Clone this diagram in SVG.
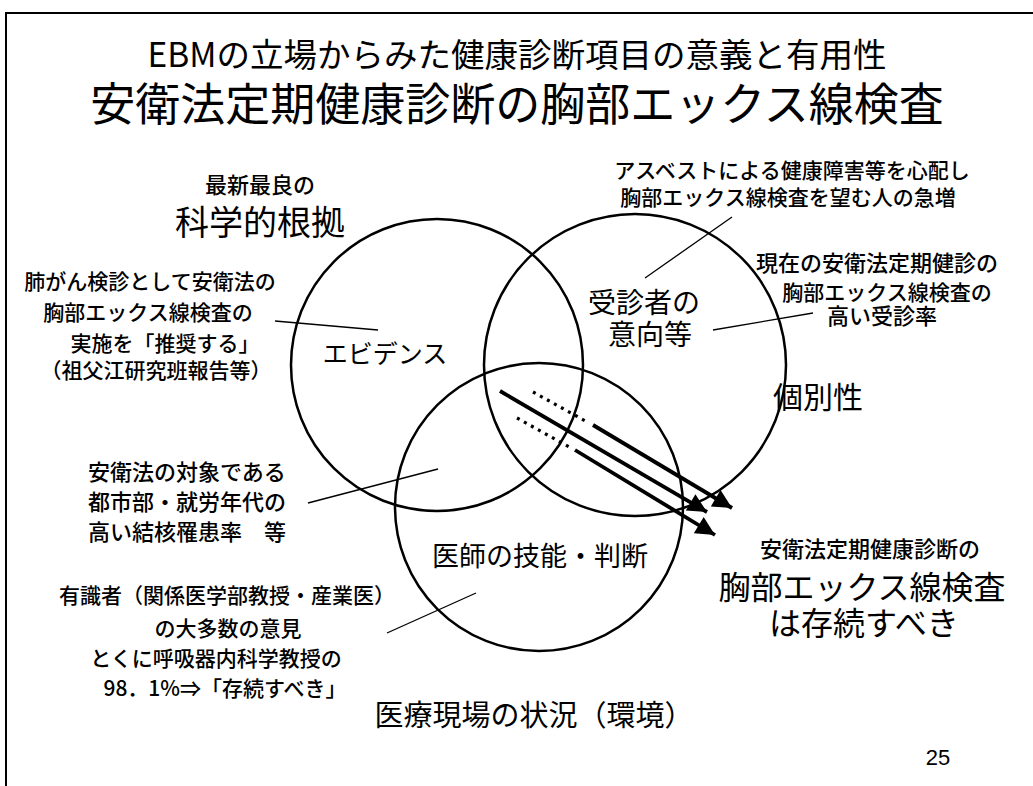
<svg xmlns="http://www.w3.org/2000/svg" width="1033" height="786" viewBox="0 0 1033 786">
<style>
text{font-family:"Noto Sans CJK JP","Liberation Sans",sans-serif;fill:#000;text-anchor:middle}
.circ{fill:none;stroke:#000;stroke-width:2.5}
.lead{stroke:#000;stroke-width:1.3;fill:none}
.arr{stroke:#000;stroke-width:3.8;fill:none}
.dot{stroke:#000;stroke-width:3.2;fill:none;stroke-dasharray:3 5}
.s21{font-size:21px;font-weight:500}
.s22{font-size:22px;font-weight:500}
</style>
<defs>
<marker id="ah" viewBox="0 0 10 10" refX="10" refY="5" markerWidth="6" markerHeight="5" markerUnits="strokeWidth" orient="auto">
<path d="M0,0 L10,5 L0,10 z" fill="#000"/>
</marker>
</defs>
<rect width="1033" height="786" fill="#fff"/>
<g id="frame">
<line x1="6" y1="13" x2="1033" y2="13" stroke="#000" stroke-width="2"/>
<line x1="6" y1="12" x2="6" y2="786" stroke="#000" stroke-width="2"/>
</g>
<g id="title">
<text x="517" y="67" style="font-size:33.5px">EBMの立場からみた健康診断項目の意義と有用性</text>
<text x="517" y="121" style="font-size:45px">安衛法定期健康診断の胸部エックス線検査</text>
</g>
<g id="circles">
<circle id="evidence-circle" class="circ" cx="437" cy="365" r="146"/>
<circle id="patient-circle" class="circ" cx="635" cy="365" r="151"/>
<circle id="doctor-circle" class="circ" cx="539" cy="507" r="144"/>
</g>
<g id="connectors">
<line class="lead" x1="275" y1="321" x2="378" y2="330"/>
<line class="lead" x1="732" y1="217" x2="645" y2="278"/>
<line class="lead" x1="813" y1="313" x2="713" y2="330"/>
<line class="lead" x1="308" y1="503" x2="438" y2="469"/>
<line class="lead" x1="387" y1="633" x2="476" y2="593"/>
<line class="arr" x1="500" y1="391" x2="707" y2="512" marker-end="url(#ah)"/>
<line class="dot" x1="533" y1="392" x2="589" y2="423"/>
<line class="arr" x1="593" y1="425" x2="732" y2="508" marker-end="url(#ah)"/>
<line class="dot" x1="517" y1="418" x2="571" y2="448"/>
<line class="arr" x1="575" y1="450" x2="715" y2="535" marker-end="url(#ah)"/>
</g>
<g id="node-evidence">
<text x="260" y="193" class="s22">最新最良の</text>
<text x="260" y="235" style="font-size:34px">科学的根拠</text>
<text x="385" y="363" style="font-size:25px">エビデンス</text>
</g>
<g id="note-evidence">
<text x="150" y="289" class="s21">肺がん検診として安衛法の</text>
<text x="148" y="320" class="s21">胸部エックス線検査の</text>
<text x="165" y="351" class="s21">実施を「推奨する」</text>
<text x="156" y="378" class="s21">（祖父江研究班報告等）</text>
</g>
<g id="node-patient">
<text x="644" y="313" style="font-size:28px">受診者の</text>
<text x="650" y="345" style="font-size:28px">意向等</text>
<text x="818" y="408" style="font-size:30px">個別性</text>
</g>
<g id="note-patient-1">
<text x="792" y="178" class="s21">アスベストによる健康障害等を心配し</text>
<text x="788" y="205" class="s21">胸部エックス線検査を望む人の急増</text>
</g>
<g id="note-patient-2">
<text x="877" y="271" class="s22">現在の安衛法定期健診の</text>
<text x="887" y="300" class="s21">胸部エックス線検査の</text>
<text x="882" y="324" class="s22">高い受診率</text>
</g>
<g id="node-doctor">
<text x="540" y="566" style="font-size:27px">医師の技能・判断</text>
<text x="534" y="726" style="font-size:29px">医療現場の状況（環境）</text>
</g>
<g id="note-doctor-1">
<text x="88" y="480" class="s22" style="text-anchor:start">安衛法の対象である</text>
<text x="88" y="510" class="s22" style="text-anchor:start">都市部・就労年代の</text>
<text x="88" y="540" class="s22" style="text-anchor:start">高い結核罹患率　等</text>
</g>
<g id="note-doctor-2">
<text x="227" y="603" class="s21">有識者（関係医学部教授・産業医）</text>
<text x="228" y="636" class="s21">の大多数の意見</text>
<text x="216" y="666" class="s21">とくに呼吸器内科学教授の</text>
<text x="225" y="696" class="s21">98．1%⇒「存続すべき」</text>
</g>
<g id="node-conclusion">
<text x="870" y="557" class="s22">安衛法定期健康診断の</text>
<text x="862" y="599" style="font-size:32px">胸部エックス線検査</text>
<text x="864" y="635" style="font-size:32px">は存続すべき</text>
</g>
<g id="page-number">
<text x="938" y="765" style="font-size:22px;font-family:'Liberation Sans',sans-serif">25</text>
</g>
</svg>
